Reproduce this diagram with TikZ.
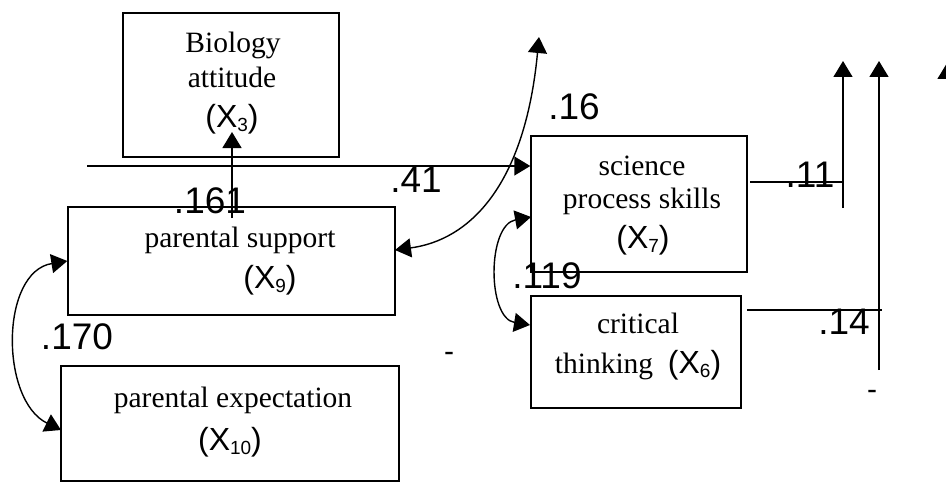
\documentclass[tikz,border=0pt]{standalone}
\usepackage{fontspec}
\setmainfont{Liberation Serif}
\newfontfamily\sansf{Liberation Sans}
\usetikzlibrary{arrows.meta}
\newcommand\xvar[1]{{\sansf\fontsize{32}{32}\selectfont (X\raisebox{-4pt}{\fontsize{19}{19}\selectfont #1})}}
\tikzset{
  box/.style={draw, line width=1.4pt, inner sep=0pt},
  txt/.style={font=\fontsize{29.5}{30}\selectfont, anchor=base, inner sep=0pt},
  num/.style={font=\sansf\fontsize{37}{37}\selectfont, anchor=base, inner sep=0pt},
  dsh/.style={font=\sansf\fontsize{30}{30}\selectfont, anchor=center, inner sep=0pt},
  tip/.tip={Triangle[length=16pt,width=19pt]},
  conn/.style={line width=1.4pt},
  arr/.style={conn, -tip},
  darr/.style={conn, tip-tip},
}
\begin{document}
\begin{tikzpicture}[x=1pt,y=-1pt]
\useasboundingbox (0,0) rectangle (946,487);
% boxes
\node[box, minimum width=216pt, minimum height=144pt] (bio) at (231,85) {};
\node[box, minimum width=327pt, minimum height=108pt] (sup) at (231.5,261) {};
\node[box, minimum width=338pt, minimum height=115pt] (exp) at (230,423.5) {};
\node[box, minimum width=216pt, minimum height=136pt] (sci) at (639,204) {};
\node[box, minimum width=210pt, minimum height=112pt] (crit) at (636,352) {};
% box texts
\node[txt] (t1) at (233,53) {Biology};
\node[txt] (t2) at (232,88) {attitude};
\node[txt] (t3) at (232,128) {\xvar{3}};
\node[txt] (t4) at (240,247) {parental support};
\node[txt] (t5) at (270,288) {\xvar{9}};
\node[txt] (t6) at (233,407) {parental expectation};
\node[txt] (t7) at (230,450) {\xvar{10}};
\node[txt] (t8) at (642,175) {science};
\node[txt] (t9) at (642,208) {process skills};
\node[txt] (t10) at (643,248) {\xvar{7}};
\node[txt] (t11) at (638,333) {critical};
\node[txt] (t12) at (638,373) {thinking\ \ \xvar{6}};
% coordinates
\coordinate (a41) at (87,166);
\coordinate (a161s) at (232,218);
\coordinate (a161e) at (232,132);
\coordinate (c16s) at (539,37);
\coordinate (c16e) at (395,250);
\coordinate (c119s) at (531,217);
\coordinate (c119e) at (530,325);
\coordinate (c170e) at (61,430);
\coordinate (l11s) at (750,182);
\coordinate (l11v) at (843,182);
\coordinate (v11b) at (843,208);
\coordinate (v11t) at (843,61);
\coordinate (l14s) at (747,310);
\coordinate (l14e) at (882,310);
\coordinate (v14b) at (879,370);
\coordinate (v14t) at (879,61);
\coordinate (v3b) at (947,120);
\coordinate (v3t) at (947,63);
% connectors
\draw[arr] (a41) -- (sci.west |- a41);
\draw[arr] (a161s) -- (a161e);
\draw[darr] (c16s) .. controls (525,185) and (470,240) .. (c16e);
\draw[darr] (c119s) .. controls (487,225) and (487,318) .. (c119e);
\draw[darr] (sup.west) .. controls (0,272) and (0,400) .. (c170e);
\draw[conn] (l11s) -- (l11v);
\draw[arr] (v11b) -- (v11t);
\draw[conn] (l14s) -- (l14e);
\draw[arr] (v14b) -- (v14t);
\draw[arr] (v3b) -- (v3t);
% coefficient labels
\node[num] (n161) at (210,213) {.161};
\node[num] (n41) at (416,192) {.41};
\node[num] (n16) at (574,120) {.16};
\node[num] (n11) at (810,187) {.11};
\node[num] (n119) at (547,288) {.119};
\node[num] (n14) at (844,334) {.14};
\node[num] (n170) at (77,349) {.170};
\node[dsh] (d1) at (449,357) {-};
\node[dsh] (d2) at (872,395) {-};
\end{tikzpicture}
\end{document}
